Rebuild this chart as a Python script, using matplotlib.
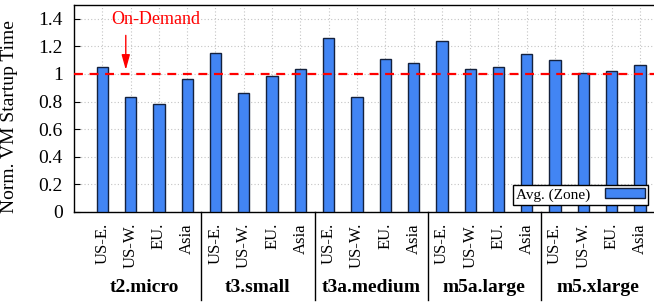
import matplotlib
matplotlib.use('Agg')
import matplotlib.pyplot as plt
import matplotlib.transforms as mtransforms
import numpy as np

# instance types and zones
groups = ['t2.micro', 't3.small', 't3a.medium', 'm5a.large', 'm5.xlarge']
zones = ['US-E.', 'US-W.', 'EU.', 'Asia']

# normalized startup time per (group, zone)
t2_micro = [1.05, 0.83, 0.78, 0.965]
t3_small = [1.155, 0.865, 0.985, 1.035]
t3a_medium = [1.26, 0.835, 1.11, 1.08]
m5a_large = [1.24, 1.035, 1.05, 1.145]
m5_xlarge = [1.10, 1.005, 1.025, 1.065]

ondemand = 1.0

plt.rcParams['font.family'] = ['Liberation Serif', 'DejaVu Serif']

values = t2_micro + t3_small + t3a_medium + m5a_large + m5_xlarge
labels = zones * len(groups)
x = np.arange(len(values))

W, H = 654, 304
fig = plt.figure(figsize=(W / 100, H / 100), dpi=100)
ax = fig.add_axes([74 / W, (H - 212) / H, 590 / W, 207 / H])

ax.grid(True, color='#c4c4c4', linestyle=(0, (1, 2)), linewidth=0.8, zorder=0)
ax.bar(x, values, width=0.4, color='#4285f4', edgecolor='#14213d',
       linewidth=1.0, zorder=3, label='Avg. (Zone)')

ax.axhline(ondemand, color='red', linestyle=(0, (4, 3)), linewidth=1.6, zorder=4)
ax.annotate('', xy=(0.83, 1.01), xytext=(0.83, 1.30),
            arrowprops=dict(arrowstyle='-|>,head_length=0.9,head_width=0.25',
                            color='red', lw=1.0, mutation_scale=10), zorder=5)
ax.text(0.3, 1.395, 'On-Demand', color='red', fontsize=13,
        ha='left', va='center', zorder=5)

ax.set_xlim(-1.0, 19.85)
ax.set_ylim(0, 1.5)
ax.set_yticks([0, 0.2, 0.4, 0.6, 0.8, 1.0, 1.2, 1.4])
ax.set_yticklabels(['0', '0.2', '0.4', '0.6', '0.8', '1', '1.2', '1.4'])
ax.set_xticks(x)
ax.set_xticklabels(labels, rotation=90, fontsize=12, va='top')
ax.tick_params(axis='x', length=0, pad=8)
ax.tick_params(axis='y', direction='in', length=4, labelsize=14, pad=8)
ax.set_ylabel('Norm. VM Startup Time', fontsize=14)
ax.yaxis.set_label_coords(-0.095, 0.459)

for s in ax.spines.values():
    s.set_linewidth(1.0)

# group separators and group names below the axis
trans = mtransforms.blended_transform_factory(ax.transData, ax.transAxes)
for k in range(1, len(groups)):
    sep = 4 * k - 0.5
    ax.plot([sep, sep], [0, -0.425], color='black', linewidth=1.0,
            transform=trans, clip_on=False)
for k, g in enumerate(groups):
    ax.text(4 * k + 1.5, -0.365, g, transform=trans, ha='center',
            va='center', fontsize=14, fontweight='bold')

leg = ax.legend(loc='lower right', bbox_to_anchor=(0.973, 0.034),
                fontsize=11, markerfirst=False, fancybox=False,
                framealpha=1, edgecolor='black', handlelength=2.6,
                handleheight=0.6, borderpad=0.2, handletextpad=1.0,
                borderaxespad=0)
leg.get_frame().set_linewidth(1.0)

fig.savefig('out.png', dpi=100)
